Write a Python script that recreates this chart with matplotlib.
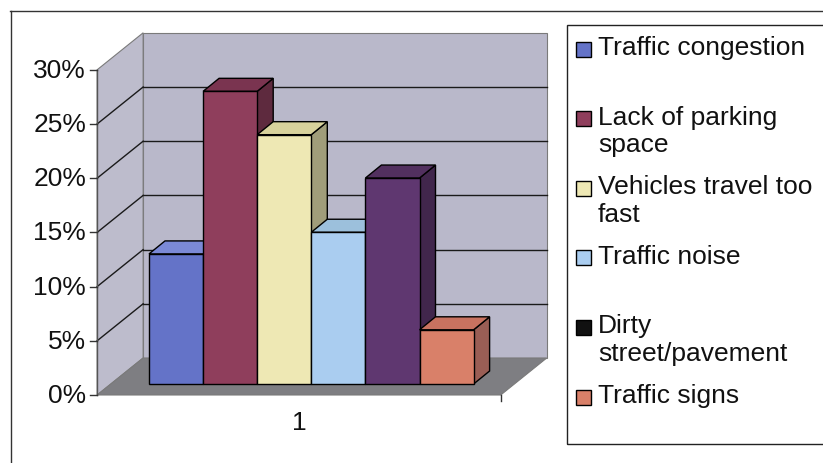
import matplotlib
matplotlib.use("Agg")
import matplotlib.pyplot as plt
from matplotlib.patches import Polygon, Rectangle
from matplotlib.lines import Line2D

plt.rcParams['font.family'] = ['Liberation Sans', 'DejaVu Sans']

# ---------------- data ----------------
categories = ["Traffic congestion", "Lack of parking\nspace", "Vehicles travel too\nfast",
              "Traffic noise", "Dirty\nstreet/pavement", "Traffic signs"]
values = [12, 27, 23, 14, 19, 5]           # percent
y_ticks = [0, 5, 10, 15, 20, 25, 30]
x_label = "1"

front_colors = ["#6473C8", "#8F3E5C", "#EEE8B4", "#AACDF0", "#5F3770", "#D98069"]
top_colors = ["#7B89D6", "#7A3450", "#D8D29C", "#9CC0DC", "#52305F", "#C87260"]
side_colors = ["#47518F", "#5E2A3E", "#A09D7A", "#7F9CB8", "#41264C", "#9A5E55"]
legend_colors = ["#6473C8", "#8F3E5C", "#EEE8B4", "#AACDF0", "#111111", "#D98069"]

# ---------------- layout ----------------
W, H, DPI = 823, 464, 100
UNIT_PX, PCT_PX = 54.1, 10.84
ORIG_X, ORIG_Y = 149, 385          # pixel of bar-0 left / 0% in bar plane (from top-left)

fig = plt.figure(figsize=(W / DPI, H / DPI), dpi=DPI)
ax = fig.add_axes([0, 0, 1, 1])
ax.set_xlim(-ORIG_X / UNIT_PX, (W - ORIG_X) / UNIT_PX)
ax.set_ylim(-(H - ORIG_Y) / PCT_PX, ORIG_Y / PCT_PX)
ax.axis("off")

def off(dx_px, dy_px):
    return dx_px / UNIT_PX, dy_px / PCT_PX

fdx, fdy = off(-14, -11)     # front (axis) plane relative to bar plane
bdx, bdy = off(32, 26)       # back wall plane
ddx, ddy = off(16, 13)       # bar depth
L, R = -0.70, 6.76           # floor extent in bar-plane units
TOP = max(y_ticks)

wall_c = "#B9B8CA"
side_c = "#BDBCCC"
floor_c = "#7E7E82"
edge_c = "#7A7A7A"

# back wall
ax.add_patch(Polygon([(L + bdx, bdy), (R + bdx, bdy), (R + bdx, TOP + bdy), (L + bdx, TOP + bdy)],
                     closed=True, facecolor=wall_c, edgecolor=edge_c, lw=0.8, zorder=1))
# side wall
ax.add_patch(Polygon([(L + fdx, fdy), (L + bdx, bdy), (L + bdx, TOP + bdy), (L + fdx, TOP + fdy)],
                     closed=True, facecolor=side_c, edgecolor=edge_c, lw=0.8, zorder=1))
# gridlines
for v in y_ticks[1:-1]:
    ax.plot([L + bdx, R + bdx], [v + bdy, v + bdy], color="#1a1a1a", lw=1.0, zorder=2)
    ax.plot([L + fdx, L + bdx], [v + fdy, v + bdy], color="#1a1a1a", lw=1.0, zorder=2)
# floor
ax.add_patch(Polygon([(L + fdx, fdy), (R + fdx, fdy), (R + bdx, bdy), (L + bdx, bdy)],
                     closed=True, facecolor=floor_c, edgecolor=edge_c, lw=0.8, zorder=2))

# axis line, ticks and labels
ax.plot([L + fdx, L + fdx], [fdy, TOP + fdy], color="#555555", lw=1.0, zorder=3)
tick_len = 7 / UNIT_PX
for v in y_ticks:
    ax.plot([L + fdx - tick_len, L + fdx], [v + fdy, v + fdy], color="#333333", lw=1.0, zorder=3)
    ax.text(L + fdx - tick_len - 4 / UNIT_PX, v + fdy, f"{v}%", ha="right", va="center",
            fontsize=19, color="#111111")
ax.plot([R + fdx, R + fdx], [fdy, fdy - 6 / PCT_PX], color="#333333", lw=1.0, zorder=3)
ax.text((L + R) / 2 + fdx, fdy - 27 / PCT_PX, x_label, ha="center", va="center",
        fontsize=19, color="#111111")

# bars
for i, v in enumerate(values):
    x0, x1 = i, i + 1
    side = [(x1, 0), (x1 + ddx, ddy), (x1 + ddx, v + ddy), (x1, v)]
    top = [(x0, v), (x1, v), (x1 + ddx, v + ddy), (x0 + ddx, v + ddy)]
    ax.add_patch(Polygon(side, closed=True, facecolor=side_colors[i], edgecolor="black",
                         lw=1.0, zorder=4 + i))
    ax.add_patch(Polygon(top, closed=True, facecolor=top_colors[i], edgecolor="black",
                         lw=1.0, zorder=4 + i))
    ax.bar(x0, v, width=1, align="edge", color=front_colors[i], edgecolor="black",
           lw=1.0, zorder=4 + i)

# ---------------- frame & legend (figure pixels) ----------------
def fx(px):
    return px / W

def fy(py):
    return 1 - py / H

fig.add_artist(Line2D([fx(10), fx(823)], [fy(12), fy(12)], color="#333333", lw=1.0))
fig.add_artist(Line2D([fx(11), fx(11)], [fy(12), fy(464)], color="#333333", lw=1.0))
fig.add_artist(Rectangle((fx(567), fy(445)), fx(830) - fx(567), fy(26) - fy(445),
                         transform=fig.transFigure, facecolor="none", edgecolor="#222222", lw=1.0))

LEG_Y0, LEG_STEP, SW = 50, 69.6, 15
for i, lab in enumerate(categories):
    yc = LEG_Y0 + LEG_STEP * i
    fig.add_artist(Rectangle((fx(576), fy(yc + SW / 2)), fx(SW), fy(0) - fy(SW),
                             transform=fig.transFigure, facecolor=legend_colors[i],
                             edgecolor="black", lw=1.0))
    fig.text(fx(598), fy(yc - 14), lab, ha="left", va="top", fontsize=19,
             color="#111111", linespacing=1.2)

fig.savefig("out.png", dpi=DPI)
